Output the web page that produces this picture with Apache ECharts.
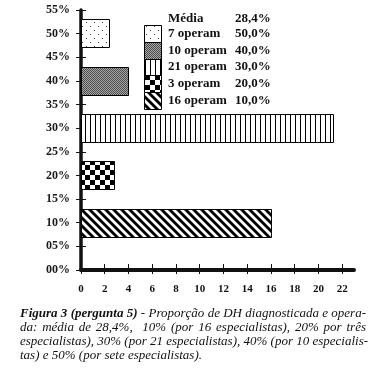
<!DOCTYPE html>
<html>
<head>
<meta charset="utf-8">
<script src="https://cdn.jsdelivr.net/npm/echarts@6/dist/echarts.min.js"></script>
<style>
  html, body { margin: 0; padding: 0; background: #fff; }
  #wrap { position: relative; width: 383px; height: 374px; }
  #chart { position: absolute; left: 0; top: 0; width: 383px; height: 374px; }
  #caption { position: absolute; left: 20px; top: 306px; width: 346px;
    font-family: "Liberation Serif", "DejaVu Serif", serif; font-style: italic;
    font-size: 13px; line-height: 14px; color: #111; }
  #caption div { text-align: justify; text-align-last: justify; white-space: nowrap; }
  #caption div.last { text-align-last: left; }
</style>
</head>
<body>
<div id="wrap">
  <div id="chart"></div>
  <div id="caption">
    <div><b>Figura 3 (pergunta 5)</b> - Proporção de DH diagnosticada e opera-</div>
    <div>da: média de 28,4%,&nbsp; 10% (por 16 especialistas), 20% por três</div>
    <div>especialistas), 30% (por 21 especialistas), 40% (por 10 especialis-</div>
    <div class="last">tas) e 50% (por sete especialistas).</div>
  </div>
</div>
<script>
// ---- data ----
const levels = [10, 20, 30, 40, 50];            // proportion (%) - bar position
const barLengths = [16, 2.8, 21.2, 4, 2.4];
const patternKeys = ['diag', 'checker', 'vlines', 'gray', 'dots'];
const legendNames = ['7 operam', '10 operam', '21 operam', '3 operam', '16 operam'];
const legendPcts = ['50,0%', '40,0%', '30,0%', '20,0%', '10,0%'];
const legendPatterns = ['dots', 'gray', 'vlines', 'checker', 'diag'];
const mediaLabel = 'Média';
const mediaValue = '28,4%';
const xTicks = [0, 2, 4, 6, 8, 10, 12, 14, 16, 18, 20, 22];
const yTicks = [0, 5, 10, 15, 20, 25, 30, 35, 40, 45, 50, 55];

// ---- patterns ----
function makeCanvas(w, h, draw) {
  const c = document.createElement('canvas');
  c.width = w; c.height = h;
  const ctx = c.getContext('2d');
  ctx.fillStyle = '#fff'; ctx.fillRect(0, 0, w, h);
  draw(ctx);
  return c;
}
const patternCanvases = {
  diag: makeCanvas(8, 8, ctx => {
    ctx.strokeStyle = '#000'; ctx.lineWidth = 2.8;
    for (let k = -8; k <= 8; k += 8) { ctx.beginPath(); ctx.moveTo(k - 1, -1); ctx.lineTo(k + 9, 9); ctx.stroke(); }
  }),
  checker: makeCanvas(10, 10, ctx => {
    ctx.fillStyle = '#000'; ctx.fillRect(0, 0, 5, 5); ctx.fillRect(5, 5, 5, 5);
  }),
  vlines: makeCanvas(5, 4, ctx => {
    ctx.fillStyle = '#000'; ctx.fillRect(0, 0, 1, 4);
  }),
  gray: makeCanvas(2, 2, ctx => {
    ctx.fillStyle = '#4a4a4a'; ctx.fillRect(0, 0, 1, 1); ctx.fillRect(1, 1, 1, 1);
    ctx.fillStyle = '#a8a8a8'; ctx.fillRect(1, 0, 1, 1); ctx.fillRect(0, 1, 1, 1);
  }),
  dots: makeCanvas(8, 8, ctx => {
    ctx.fillStyle = '#444'; ctx.fillRect(2, 2, 1, 1); ctx.fillRect(6, 6, 1, 1);
  })
};
function pattern(key) { return { image: patternCanvases[key], repeat: 'repeat' }; }

const FONT = '"Liberation Serif", "DejaVu Serif", serif';

// ---- legend graphics ----
const graphics = [];
const lgX = 144, lgTop = 25, lgH = 16.8, lgW = 17, txtX = 168, pctX = 235;
graphics.push({ type: 'text', left: txtX, top: 12, style: { text: mediaLabel, font: 'bold 13px ' + FONT, fill: '#111' } });
graphics.push({ type: 'text', left: pctX, top: 12, style: { text: mediaValue, font: 'bold 13px ' + FONT, fill: '#111' } });
legendNames.forEach((name, i) => {
  const y = lgTop + i * lgH;
  graphics.push({ type: 'rect', shape: { x: lgX + 0.5, y: Math.round(y) + 0.5, width: lgW, height: Math.round(lgH) },
    style: { fill: pattern(legendPatterns[i]), stroke: '#000', lineWidth: 1 } });
  graphics.push({ type: 'text', x: txtX, y: y + lgH / 2, style: { text: name, font: 'bold 13px ' + FONT, fill: '#111', verticalAlign: 'middle' } });
  graphics.push({ type: 'text', x: pctX, y: y + lgH / 2, style: { text: legendPcts[i], font: 'bold 13px ' + FONT, fill: '#111', verticalAlign: 'middle' } });
});

const chart = echarts.init(document.getElementById('chart'), null, { renderer: 'canvas' });

const xBase = { type: 'value', min: 0, max: 23, interval: 2, splitLine: { show: false }, position: 'bottom' };
const yBase = { type: 'value', min: 0, max: 55, interval: 5, splitLine: { show: false }, position: 'left' };

chart.setOption({
  animation: false,
  backgroundColor: '#fff',
  grid: { left: 81, top: 10, width: 273, height: 260 },
  xAxis: [
    Object.assign({}, xBase, {
      axisLine: { show: true, lineStyle: { color: '#111', width: 4 } },
      axisTick: { show: true, inside: false, length: 4, customValues: xTicks, lineStyle: { color: '#111', width: 1 } },
      axisLabel: { show: true, customValues: xTicks, margin: 14, color: '#111', fontFamily: FONT, fontWeight: 'bold', fontSize: 11 }
    }),
    Object.assign({}, xBase, {
      axisLine: { show: false },
      axisTick: { show: true, inside: true, length: 6, customValues: xTicks, lineStyle: { color: '#111', width: 1 } },
      axisLabel: { show: false }
    })
  ],
  yAxis: [
    Object.assign({}, yBase, {
      axisLine: { show: true, lineStyle: { color: '#111', width: 3.5 } },
      axisTick: { show: true, inside: false, length: 5, lineStyle: { color: '#111', width: 1 } },
      axisLabel: { show: true, margin: 11, color: '#1a1a1a', fontFamily: FONT, fontWeight: 'bold', fontSize: 12,
        formatter: v => String(v).padStart(2, '0') + '%' }
    }),
    Object.assign({}, yBase, {
      axisLine: { show: false },
      axisTick: { show: true, inside: true, length: 5, lineStyle: { color: '#111', width: 1 } },
      axisLabel: { show: false }
    })
  ],
  series: [{
    type: 'custom',
    xAxisIndex: 0, yAxisIndex: 0,
    data: levels.map((lv, i) => [barLengths[i], lv]),
    renderItem: function (params, api) {
      const len = api.value(0), lv = api.value(1);
      const p0 = api.coord([0, lv]);
      const p1 = api.coord([len, lv]);
      const h = api.size([0, 6])[1];
      const x0 = Math.round(p0[0]) + 0.5, x1 = Math.round(p1[0]) + 0.5;
      const yTop = Math.round(p0[1] - h / 2) + 0.5;
      return {
        type: 'rect',
        shape: { x: x0, y: yTop, width: x1 - x0, height: Math.round(h) },
        style: { fill: pattern(patternKeys[params.dataIndex]), stroke: '#000', lineWidth: 1 }
      };
    }
  }],
  graphic: graphics
});
</script>
</body>
</html>
